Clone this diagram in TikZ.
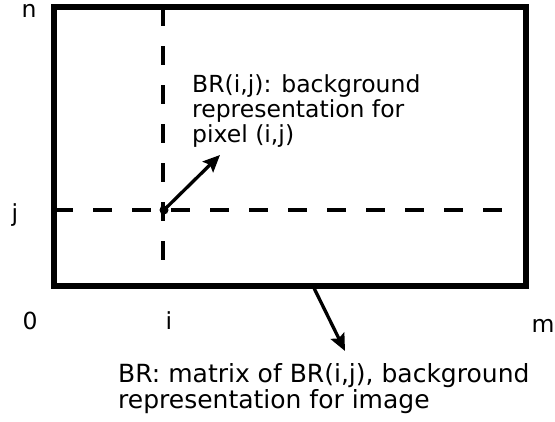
\documentclass[tikz,border=0pt]{standalone}
\usepackage{fontspec}
\setmainfont{DejaVu Sans}
\usepackage{tikz}
\usetikzlibrary{arrows.meta}

\tikzset{
  frame/.style={draw, line width=5.5pt},
  gridline/.style={line width=3.8pt, dash pattern=on 19pt off 20pt},
  pointer/.style={line width=3.3pt, -{Stealth[length=17pt, width=15pt, inset=3pt]}},
  axislabel/.style={anchor=base, inner sep=0pt},
  note/.style={anchor=north west, inner sep=0pt, align=left}
}

\begin{document}
\begin{tikzpicture}[x=1pt, y=-1pt, font=\fontsize{23.5}{25}\selectfont]
\useasboundingbox (0,0) rectangle (555,421);
% image frame and the row/column through pixel (i,j)
\draw[frame] (54,7) rectangle (526,286);
\draw[gridline] (163,7) -- (163,265);
\draw[gridline] (54,210) -- (508,210);
\fill (164,210) circle (4.5pt);
\coordinate (pix) at (164,210);
\coordinate (pixtip) at (220,155);
\coordinate (edge) at (313,286);
\coordinate (edgetip) at (345,351);
% axis labels
\node[axislabel] (n) at (29,17) {n};
\node[axislabel] (j) at (15,221) {j};
\node[axislabel] (zero) at (30,329) {0};
\node[axislabel] (i) at (169,329) {i};
\node[axislabel] (m) at (543,332) {m};
% notes
\node[note] (pixnote) at (192,74) {BR(i,j): background\\representation for\\pixel (i,j)};
\node[note, font=\fontsize{25}{26}\selectfont] (imgnote) at (118,363)
  {BR: matrix of BR(i,j), background\\representation for image};
\draw[pointer] (pix) -- (pixtip);
\draw[pointer] (edge) -- (edgetip);
\end{tikzpicture}
\end{document}
